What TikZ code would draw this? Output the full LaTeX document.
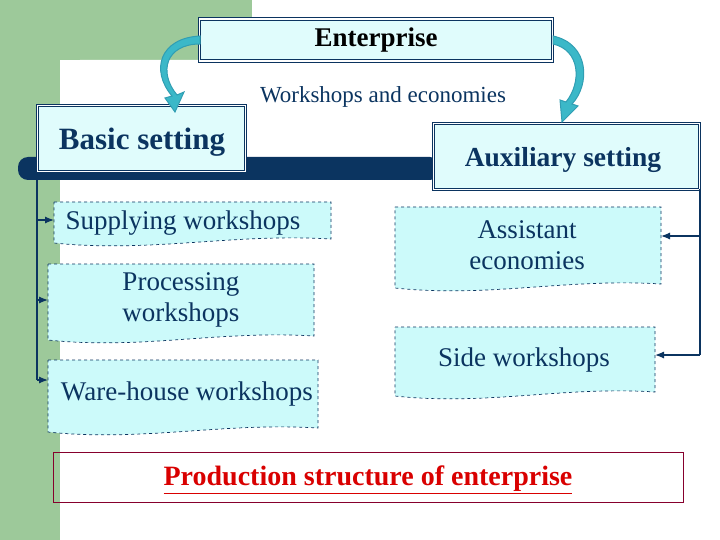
\documentclass[tikz,border=0pt]{standalone}
\usepackage{fontspec}
\setmainfont{Liberation Serif}
\usetikzlibrary{arrows.meta}
\definecolor{navy}{HTML}{0B3460}
\definecolor{lcyan}{HTML}{CCFAFA}
\definecolor{bggreen}{HTML}{9DC99A}
\definecolor{arrcyan}{HTML}{3BB8C8}
\tikzset{
 doc/.style={draw=navy, dashed, fill=lcyan, line width=0.7pt},
 txt/.style={text=navy, font=\fontsize{27}{31}\selectfont, align=center},
 hdr/.style={draw=navy, double=white, double distance=1.2pt, line width=1pt, fill=lcyan!60!white},
 conn/.style={draw=navy, line width=1.2pt, -{Latex[length=9pt,width=7pt]}},
 curv/.style={draw=arrcyan!80!navy, line width=1pt, fill=arrcyan}
}
\begin{document}
\begin{tikzpicture}[x=1pt,y=-1pt]
\useasboundingbox (0,0) rectangle (720,540);
\fill[bggreen] (0,0) rectangle (252,60);
\fill[bggreen] (0,0) rectangle (60,540);
\fill[white] (60,540) -- (60,80) arc[start angle=180,end angle=270,radius=20] -- (252,60) -- (252,0) -- (720,0) -- (720,540) -- cycle;
% header boxes
\node[hdr, minimum width=353, minimum height=42, font=\bfseries\fontsize{27}{31}\selectfont] (ent) at (376,40) {Enterprise};
\node[font=\fontsize{23}{27}\selectfont, text=navy] (we) at (383,97) {Workshops and economies};
\fill[navy, rounded corners=10] (18,157) rectangle (440,180);
\node[hdr, minimum width=208, minimum height=66, anchor=north west, inner sep=0pt] (basic) at (37,105) {};
\node[font=\bfseries\fontsize{31}{36}\selectfont, text=navy] at (142,142) {Basic setting};
\node[hdr, minimum width=266, minimum height=66, anchor=north west, inner sep=0pt] (aux) at (433,123) {};
\node[font=\bfseries\fontsize{27.5}{32}\selectfont, text=navy] at (563,160) {Auxiliary setting};
% curved arrows
\draw[curv] (200,36) .. controls (160,38) and (150,70) .. (172,96) -- (165,98) -- (175,112) -- (184,92) -- (177,95) .. controls (158,72) and (166,44) .. (200,44) -- cycle;
\draw[curv] (553,36) .. controls (590,44) and (590,85) .. (572,104) -- (578,106) -- (562,122) -- (560,100) -- (566,102) .. controls (582,82) and (580,50) .. (553,44) -- cycle;
% document shapes
\newcommand{\docbox}[4]{% x1,y1,x2,y2
 \path[doc] (#1,#2) -- (#3,#2) -- (#3,#4-6) .. controls ({#1+0.65*(#3-#1)},#4-12) and ({#1+0.35*(#3-#1)},#4+8) .. (#1,#4-2) -- cycle;}
\docbox{54}{202}{331}{245}
\docbox{48}{264}{314}{342}
\docbox{48}{360}{318}{434}
\docbox{395}{207}{661}{290}
\docbox{395}{327}{655}{398}
\node[txt] (sup) at (183,223) {Supplying workshops};
\node[txt, align=left] (proc) at (181,300) {Processing\\workshops};
\node[txt] (ware) at (187,394) {Ware-house workshops};
\node[txt] (asst) at (527,245) {Assistant\\economies};
\node[txt] (side) at (524,360) {Side workshops};
% connectors
\coordinate (lt) at (37,180);
\coordinate (lb) at (37,380);
\draw[navy, line width=1.2pt] (lt) -- (lb);
\draw[conn] (37,220) -- (54,220);
\draw[conn] (37,300) -- (48,300);
\draw[conn] (lb) -- (48,380);
\coordinate (rt) at (700,189);
\draw[navy, line width=1.2pt] (rt) -- (700,355);
\draw[conn] (700,236) -- (661,236);
\draw[conn] (700,355) -- (655,355);
% production
\node[draw=purple!70!black, line width=0.6pt, minimum width=630, minimum height=50] (prod) at (368,477) {};
\node[text=red!85!black, font=\bfseries\fontsize{28}{32}\selectfont] at (368,480) {\underline{Production structure of enterprise}};
\end{tikzpicture}
\end{document}
